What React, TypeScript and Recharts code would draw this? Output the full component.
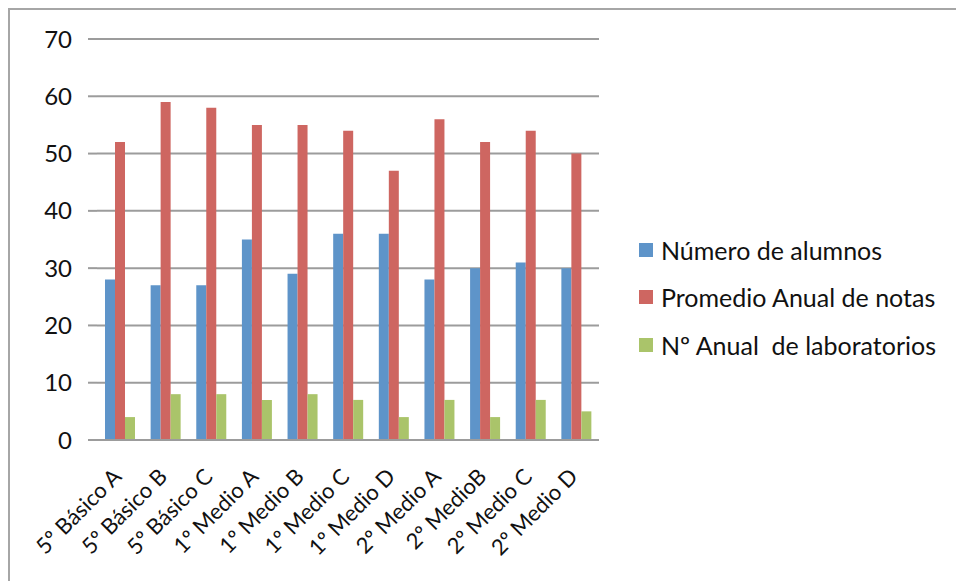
import React from "react";
import { BarChart, Bar, XAxis, YAxis, CartesianGrid, Legend } from "recharts";

const categories = [
  "5º Básico A",
  "5º Básico B",
  "5º Básico C",
  "1º Medio A",
  "1º Medio B",
  "1º Medio C",
  "1º Medio D",
  "2º Medio A",
  "2º MedioB",
  "2º Medio C",
  "2º Medio D",
];
const alumnos = [28, 27, 27, 35, 29, 36, 36, 28, 30, 31, 30];
const promedio = [52, 59, 58, 55, 55, 54, 47, 56, 52, 54, 50];
const laboratorios = [4, 8, 8, 7, 8, 7, 4, 7, 4, 7, 5];
const yTicks = [0, 10, 20, 30, 40, 50, 60, 70];
const boundaryTicks = [0, 1, 2, 3, 4, 5, 6, 7, 8, 9, 10, 11];

const seriesNames = [
  "Número de alumnos",
  "Promedio Anual de notas",
  "Nº Anual  de laboratorios",
];
const colors = ["#5E94C9", "#CE6661", "#AAC46A"];

const data = categories.map((c, i) => ({
  name: c,
  a: alumnos[i],
  p: promedio[i],
  l: laboratorios[i],
}));

const FONT = "Lato, Carlito, Calibri, sans-serif";
const GRID = "#9c9c9c";

const CatTick = (props: any) => {
  const { x, y, payload } = props;
  return (
    <g transform={`translate(${x + 3},${y + 29})`}>
      <text
        x={0}
        y={0}
        textAnchor="end"
        transform="rotate(-45)"
        fontFamily={FONT}
        fontSize={22}
        fill="#111"
      >
        {payload.value}
      </text>
    </g>
  );
};

const LegendContent = () => (
  <div style={{ fontFamily: FONT, fontSize: 25, color: "#111" }}>
    {seriesNames.map((n, i) => (
      <div
        key={n}
        style={{
          display: "flex",
          alignItems: "center",
          height: 47.5,
          whiteSpace: "pre",
        }}
      >
        <span
          style={{
            display: "inline-block",
            width: 14,
            height: 14,
            background: colors[i],
            marginRight: 8,
          }}
        />
        <span>{n}</span>
      </div>
    ))}
  </div>
);

export default function App() {
  return (
    <div
      style={{
        position: "fixed",
        left: 0,
        top: 0,
        width: 956,
        height: 581,
        background: "#fff",
        zIndex: 10,
        overflow: "hidden",
      }}
    >
      <div
        style={{
          position: "absolute",
          left: 8,
          top: 8,
          width: 948,
          height: 573,
          borderLeft: "2px solid #a6a6a6",
          borderTop: "2px solid #a6a6a6",
          boxSizing: "border-box",
          overflow: "hidden",
          background: "#fff",
        }}
      >
        <BarChart
          width={938}
          height={563}
          data={data}
          margin={{ top: 29, right: 349, left: 0, bottom: 0 }}
          barCategoryGap={8}
          barGap={0}
        >
          <CartesianGrid vertical={false} stroke={GRID} strokeWidth={2} />
          <XAxis
            xAxisId="b"
            dataKey="name"
            interval={0}
            axisLine={false}
            tickLine={false}
            tick={<CatTick />}
            height={132}
          />
          <XAxis
            xAxisId="a"
            type="number"
            domain={[0, 11]}
            ticks={boundaryTicks}
            tick={false}
            tickSize={8}
            tickLine={{ stroke: GRID, strokeWidth: 2 }}
            axisLine={{ stroke: GRID, strokeWidth: 2 }}
            height={1}
            allowDataOverflow
          />
          <YAxis
            domain={[0, 70]}
            ticks={yTicks}
            interval={0}
            width={87}
            axisLine={false}
            tickSize={9}
            tickMargin={16}
            tickLine={{ stroke: GRID, strokeWidth: 2 }}
            tick={{ fontFamily: FONT, fontSize: 24, fill: "#111" }}
          />
          <Legend
            layout="vertical"
            align="center"
            verticalAlign="middle"
            content={<LegendContent />}
            wrapperStyle={{ left: 629, top: 216, width: 320 }}
          />
          <Bar xAxisId="b" dataKey="a" name={seriesNames[0]} fill={colors[0]} isAnimationActive={false} />
          <Bar xAxisId="b" dataKey="p" name={seriesNames[1]} fill={colors[1]} isAnimationActive={false} />
          <Bar xAxisId="b" dataKey="l" name={seriesNames[2]} fill={colors[2]} isAnimationActive={false} />
        </BarChart>
      </div>
    </div>
  );
}
